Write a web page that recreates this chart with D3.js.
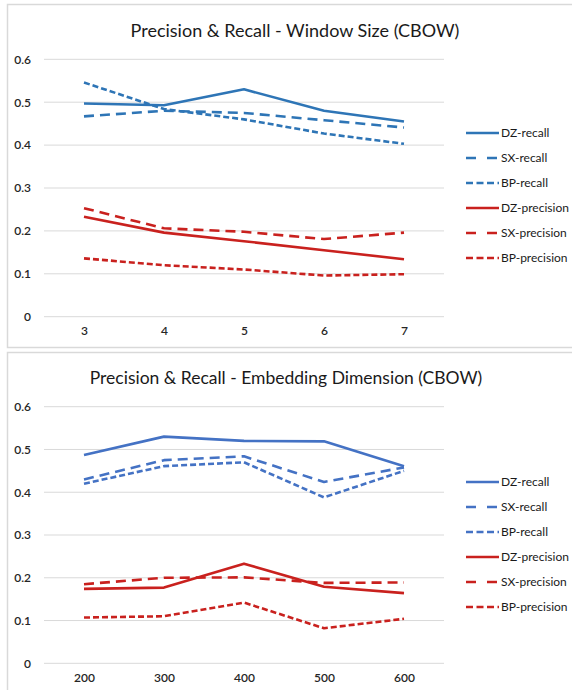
<!DOCTYPE html>
<html>
<head>
<meta charset="utf-8">
<script src="https://cdn.jsdelivr.net/npm/d3@7"></script>
<style>
  html, body { margin: 0; padding: 0; background: #fff; }
  svg { display: block; }
  text { font-family: Lato, "Open Sans", sans-serif; }
</style>
</head>
<body>
<svg id="chart" width="572" height="690"></svg>
<script>
// Categories on the x axes
const windowSizes = [3, 4, 5, 6, 7];
const embeddingDims = [200, 300, 400, 500, 600];
const yTickValues = [0, 0.1, 0.2, 0.3, 0.4, 0.5, 0.6];

// Window size panel (CBOW)
const winDZRecall     = [0.497, 0.493, 0.530, 0.480, 0.455];
const winSXRecall     = [0.467, 0.480, 0.475, 0.458, 0.441];
const winBPRecall     = [0.546, 0.484, 0.460, 0.427, 0.403];
const winDZPrecision  = [0.233, 0.196, 0.176, 0.155, 0.134];
const winSXPrecision  = [0.253, 0.206, 0.198, 0.181, 0.196];
const winBPPrecision  = [0.136, 0.120, 0.110, 0.096, 0.099];

// Embedding dimension panel (CBOW)
const dimDZRecall     = [0.487, 0.530, 0.520, 0.519, 0.461];
const dimSXRecall     = [0.430, 0.475, 0.484, 0.424, 0.458];
const dimBPRecall     = [0.420, 0.461, 0.470, 0.388, 0.450];
const dimDZPrecision  = [0.174, 0.177, 0.233, 0.179, 0.164];
const dimSXPrecision  = [0.185, 0.200, 0.201, 0.188, 0.189];
const dimBPPrecision  = [0.107, 0.110, 0.142, 0.082, 0.104];

const seriesNames = ["DZ-recall", "SX-recall", "BP-recall", "DZ-precision", "SX-precision", "BP-precision"];

const DASH_SOLID = null;
const DASH_LONG = "10,6";
const DASH_SHORT = "6,3";
const dashes = [DASH_SOLID, DASH_LONG, DASH_SHORT, DASH_SOLID, DASH_LONG, DASH_SHORT];

const svg = d3.select("#chart");

function drawPanel(opts) {
  const g = svg.append("g").attr("transform", `translate(0,${opts.top})`);

  // frame
  g.append("rect")
    .attr("x", 7.5).attr("y", 0.5)
    .attr("width", 600).attr("height", opts.height)
    .attr("fill", "#fff").attr("stroke", "#d9d9d9").attr("stroke-width", 1.5);

  g.append("text")
    .attr("x", opts.titleX).attr("y", opts.titleY)
    .attr("text-anchor", "middle")
    .attr("font-size", opts.titleSize)
    .attr("fill", "#1a1a1a")
    .text(opts.title);

  const x = d3.scalePoint().domain(opts.categories).range([44, 444]).padding(0.5);
  const y = d3.scaleLinear().domain([0, 0.6]).range([opts.plotBottom, opts.plotTop]);

  // gridlines
  g.append("g").selectAll("line").data(yTickValues).join("line")
    .attr("x1", 44).attr("x2", 444)
    .attr("y1", d => y(d)).attr("y2", d => y(d))
    .attr("stroke", "#d9d9d9").attr("stroke-width", 1);

  // y axis labels
  const yAxis = d3.axisLeft(y).tickValues(yTickValues).tickSize(0).tickPadding(0)
    .tickFormat(d => d === 0 ? "0" : d3.format(".1f")(d));
  const ya = g.append("g").attr("transform", "translate(31,0)").call(yAxis);
  ya.select(".domain").remove();
  ya.selectAll("text").attr("font-size", 12).attr("fill", "#262626").attr("font-family", "Lato, sans-serif").attr("font-weight", 600);

  // x axis labels
  const xAxis = d3.axisBottom(x).tickSize(0).tickPadding(0);
  const xa = g.append("g").attr("transform", `translate(0,${opts.plotBottom + 10})`).call(xAxis);
  xa.select(".domain").remove();
  xa.selectAll("text").attr("font-size", 12).attr("fill", "#262626").attr("font-family", "Lato, sans-serif").attr("font-weight", 600);

  const line = d3.line()
    .x((d, i) => x(opts.categories[i]))
    .y(d => y(d));

  const series = opts.values.map((vals, i) => ({
    name: seriesNames[i],
    values: vals,
    color: i < 3 ? opts.blue : opts.red,
    dash: dashes[i]
  }));

  g.append("g").selectAll("path").data(series).join("path")
    .attr("d", d => line(d.values))
    .attr("fill", "none")
    .attr("stroke", d => d.color)
    .attr("stroke-width", 2.6)
    .attr("stroke-linejoin", "round")
    .attr("stroke-dasharray", d => d.dash);

  // legend
  const lg = g.append("g").selectAll("g").data(series).join("g")
    .attr("transform", (d, i) => `translate(466,${opts.legendTop + i * 25})`);
  lg.append("line")
    .attr("x1", 0).attr("x2", 33).attr("y1", 0).attr("y2", 0)
    .attr("stroke", d => d.color).attr("stroke-width", 2.6)
    .attr("stroke-dasharray", d => d.dash === DASH_LONG ? "10,11" : d.dash === DASH_SHORT ? "7,3.5" : null);
  lg.append("text")
    .attr("x", 35).attr("y", 0).attr("dy", "0.35em")
    .attr("font-size", 12).attr("fill", "#1a1a1a")
    .text(d => d.name);
}

drawPanel({
  top: 4,
  height: 343,
  title: "Precision & Recall - Window Size (CBOW)",
  titleX: 295, titleY: 33, titleSize: 18,
  categories: windowSizes,
  plotTop: 59.3 - 4, plotBottom: 316.7 - 4,
  legendTop: 133 - 4,
  blue: "#2e75b6", red: "#c9211e",
  values: [winDZRecall, winSXRecall, winBPRecall, winDZPrecision, winSXPrecision, winBPPrecision]
});

drawPanel({
  top: 352,
  height: 360,
  title: "Precision & Recall - Embedding Dimension (CBOW)",
  titleX: 286, titleY: 384 - 352, titleSize: 17.5,
  categories: embeddingDims,
  plotTop: 406.7 - 352, plotBottom: 663.3 - 352,
  legendTop: 482 - 352,
  blue: "#4472c4", red: "#c9211e",
  values: [dimDZRecall, dimSXRecall, dimBPRecall, dimDZPrecision, dimSXPrecision, dimBPPrecision]
});
</script>
</body>
</html>
